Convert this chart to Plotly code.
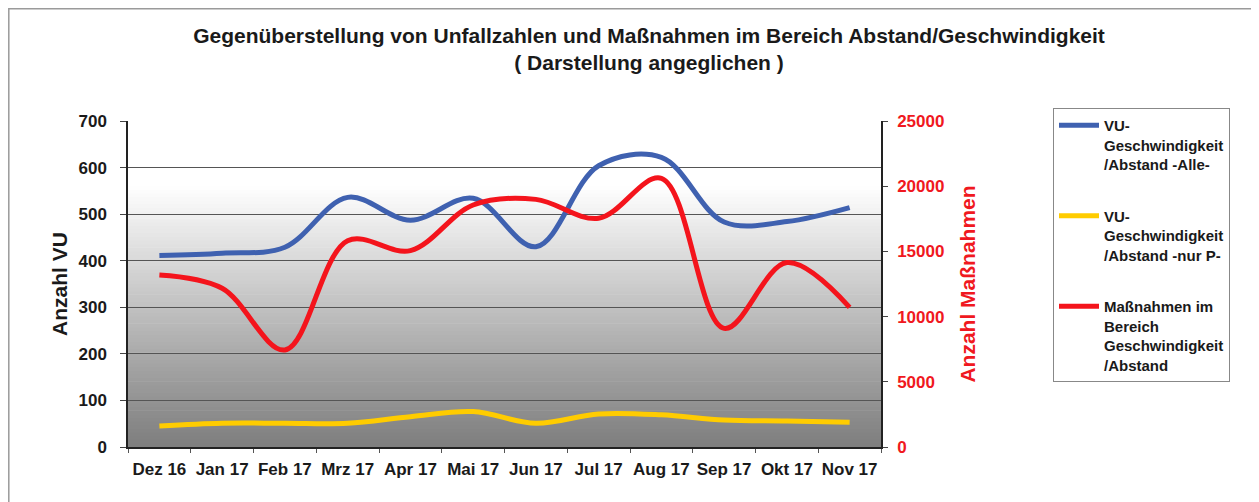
import plotly.graph_objects as go

months = ["Dez 16", "Jan 17", "Feb 17", "Mrz 17", "Apr 17", "Mai 17",
          "Jun 17", "Jul 17", "Aug 17", "Sep 17", "Okt 17", "Nov 17"]
vu_alle = [411, 416, 429, 536, 487, 534, 430, 604, 622, 483, 484, 514]
vu_nur_p = [45, 51, 51, 51, 65, 76, 51, 71, 69, 58, 56, 53]
massnahmen = [13190, 12170, 7440, 15820, 15060, 18560, 18990, 17540, 20600, 9100, 14140, 10710]

# the page adds an 8px body margin, so the figure is sized to the visible area
OFF = 8
W, H = 1259 - OFF, 502 - OFF
L, T = 128 - OFF, 121 - OFF
PR, PB = 881 - OFF, 447 - OFF
R, B = W - PR, H - PB
PW, PH = PR - L, PB - T

def px_x(s):
    return (s - OFF - L) / PW

def px_y(s):
    return (PB - (s - OFF)) / PH

FONT = "Liberation Sans, Arial, sans-serif"
BLUE = "#3f61b0"
YELLOW = "#ffcc00"
RED = "#f4141c"
TXT = "#1a1a1a"

fig = go.Figure()
fig.add_trace(go.Scatter(
    x=months, y=vu_alle, mode="lines", line=dict(color=BLUE, width=5, shape="spline", smoothing=1),
    name="VU-<br>Geschwindigkeit<br>/Abstand -Alle-", legendgroup="a"))
fig.add_trace(go.Scatter(
    x=months, y=vu_nur_p, mode="lines", line=dict(color=YELLOW, width=5, shape="spline", smoothing=1),
    name="VU-<br>Geschwindigkeit<br>/Abstand -nur P-", legendgroup="b"))
fig.add_trace(go.Scatter(
    x=months, y=massnahmen, mode="lines", yaxis="y2",
    line=dict(color=RED, width=5, shape="spline", smoothing=1),
    name="Maßnahmen im<br>Bereich<br>Geschwindigkeit<br>/Abstand", legendgroup="c"))

# gradient background bands
shapes = []
N = 90
def bg(frac):  # frac: 0 bottom -> 1 top
    top_white = 0.80
    if frac >= top_white:
        v = 255
    else:
        t = frac / top_white
        v = 126 + (255 - 126) * (t ** 1.05)
    v = int(round(v))
    return f"rgb({v},{v},{v})"
for i in range(N):
    y0 = i / N
    y1 = (i + 1) / N
    shapes.append(dict(type="rect", xref="x domain", yref="y domain", x0=0, x1=1, y0=y0, y1=y1 + 0.002,
                       fillcolor=bg((y0 + y1) / 2), line=dict(width=0), layer="below"))
# outer chart border
shapes.append(dict(type="rect", xref="paper", yref="paper",
                   x0=px_x(8.8), x1=px_x(1257), y0=px_y(530), y1=px_y(8.8),
                   line=dict(color="#9a9a9a", width=1.5), fillcolor="rgba(0,0,0,0)", layer="below"))

fig.update_layout(
    width=W, height=H,
    margin=dict(l=L, r=R, t=T, b=B, autoexpand=False),
    paper_bgcolor="white", plot_bgcolor="white",
    font=dict(family=FONT, color=TXT),
    title=dict(text="<b>Gegenüberstellung von Unfallzahlen und Maßnahmen im Bereich Abstand/Geschwindigkeit<br>( Darstellung angeglichen )</b>",
               x=(649 - OFF) / W, xref="container", xanchor="center",
               y=1 - 35 / H, yref="container", yanchor="top",
               font=dict(size=21, family=FONT, color=TXT)),
    xaxis=dict(type="category", range=[-0.5, 11.5], showgrid=False, showline=True, linecolor="#222",
               linewidth=1.5, ticks="outside", ticklen=4, tickcolor="#555", tickson="boundaries",
               tickangle=0,
               tickfont=dict(size=17, family=FONT, color=TXT, weight="bold"), ticklabelstandoff=6,
               automargin=False),
    yaxis=dict(range=[0, 700], dtick=100, showgrid=True, gridcolor="#555", gridwidth=1,
               showline=True, linecolor="#222", linewidth=1.5, ticks="outside", ticklen=6, tickcolor="#444",
               tickfont=dict(size=17, family=FONT, color=TXT, weight="bold"),
               title=dict(text="Anzahl VU", font=dict(size=21, family=FONT, color=TXT, weight="bold"), standoff=5),
               zeroline=False, ticklabelstandoff=10, automargin=False),
    yaxis2=dict(range=[0, 25000], dtick=5000, tickformat="d", overlaying="y", side="right", showgrid=False,
                showline=True, linecolor="#222", linewidth=1.5, ticks="outside", ticklen=5, tickcolor="#444",
                tickfont=dict(size=17, family=FONT, color="#f01820", weight="bold"),
                title=dict(text="Anzahl Maßnahmen", font=dict(size=21, family=FONT, color="#f01820", weight="bold"), standoff=17),
                zeroline=False, ticklabelstandoff=6, automargin=False),
    legend=dict(x=px_x(1053), y=px_y(108), xanchor="left", yanchor="top",
                bgcolor="white", bordercolor="#888", borderwidth=1,
                font=dict(size=15, family=FONT, color=TXT, weight="bold"),
                tracegroupgap=29, valign="top", itemwidth=40, maxheight=480),
    shapes=shapes,
    showlegend=True,
)

fig.write_html("out.html")
